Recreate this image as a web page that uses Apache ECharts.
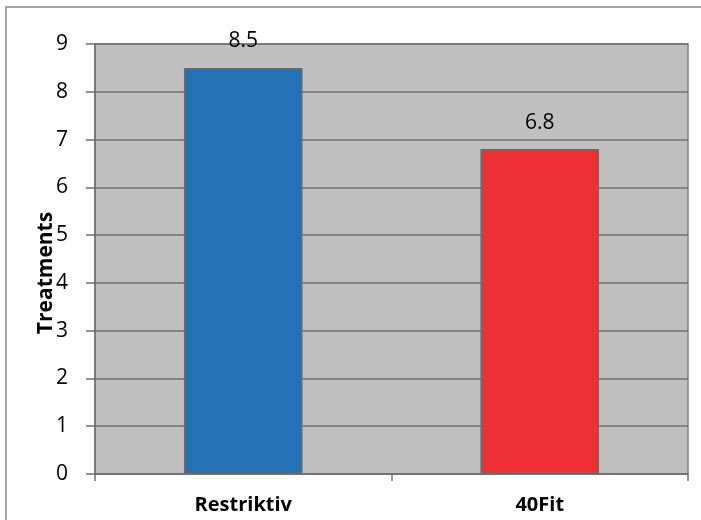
<!DOCTYPE html>
<html>
<head>
<meta charset="utf-8">
<script src="https://cdn.jsdelivr.net/npm/echarts@6/dist/echarts.min.js"></script>
<style>
  html, body { margin: 0; padding: 0; background: #fff; }
  #chart { width: 701px; height: 520px; }
</style>
</head>
<body>
<div id="chart"></div>
<script>
// Treatment categories and their values
const categories = ['Restriktiv', '40Fit'];
const values = [8.5, 6.8];
const barColors = ['#2571b6', '#ee3135'];
const yTicks = [0, 1, 2, 3, 4, 5, 6, 7, 8, 9];
const axisTitle = 'Treatments';

const FONT = '"Open Sans", "Noto Sans", sans-serif';

const chart = echarts.init(document.getElementById('chart'));
chart.setOption({
  animation: false,
  backgroundColor: '#ffffff',
  graphic: [
    {
      type: 'rect',
      shape: { x: 6, y: 7, width: 720, height: 540 },
      style: { fill: 'none', stroke: '#888888', lineWidth: 1.5 },
      silent: true
    },
    {
      type: 'text',
      x: 46, y: 273,
      rotation: Math.PI / 2,
      style: {
        text: axisTitle,
        font: 'bold 21px ' + FONT,
        fill: '#000',
        align: 'center',
        verticalAlign: 'middle'
      },
      z: 100
    }
  ],
  grid: {
    left: 95, right: 13, top: 44, bottom: 46,
    show: true,
    backgroundColor: '#c0c0c0',
    borderColor: '#808080',
    borderWidth: 1.5
  },
  xAxis: {
    type: 'category',
    data: categories,
    axisLine: { show: true, lineStyle: { color: '#707070', width: 1.5 } },
    axisTick: { show: true, length: 7, lineStyle: { color: '#707070', width: 1.5 } },
    axisLabel: {
      color: '#000', fontSize: 20, fontWeight: 'bold', fontFamily: FONT, margin: 21
    }
  },
  yAxis: {
    type: 'value',
    min: yTicks[0],
    max: yTicks[yTicks.length - 1],
    interval: 1,
    axisLine: { show: true, lineStyle: { color: '#707070', width: 1.5 } },
    axisTick: { show: true, length: 9, inside: false, lineStyle: { color: '#707070', width: 1.5 } },
    axisLabel: { color: '#000', fontSize: 21, fontFamily: FONT, margin: 27 },
    splitLine: { show: true, lineStyle: { color: '#707070', width: 1.5 } }
  },
  series: [{
    type: 'bar',
    barWidth: '40%',
    data: values.map((v, i) => ({
      value: v,
      itemStyle: { color: barColors[i], borderColor: '#6a6a6a', borderWidth: 1.5 }
    })),
    label: {
      show: true,
      position: 'top',
      distance: 16,
      color: '#000',
      fontSize: 21,
      fontFamily: FONT,
      formatter: p => p.value.toFixed(1)
    }
  }]
});
</script>
</body>
</html>
